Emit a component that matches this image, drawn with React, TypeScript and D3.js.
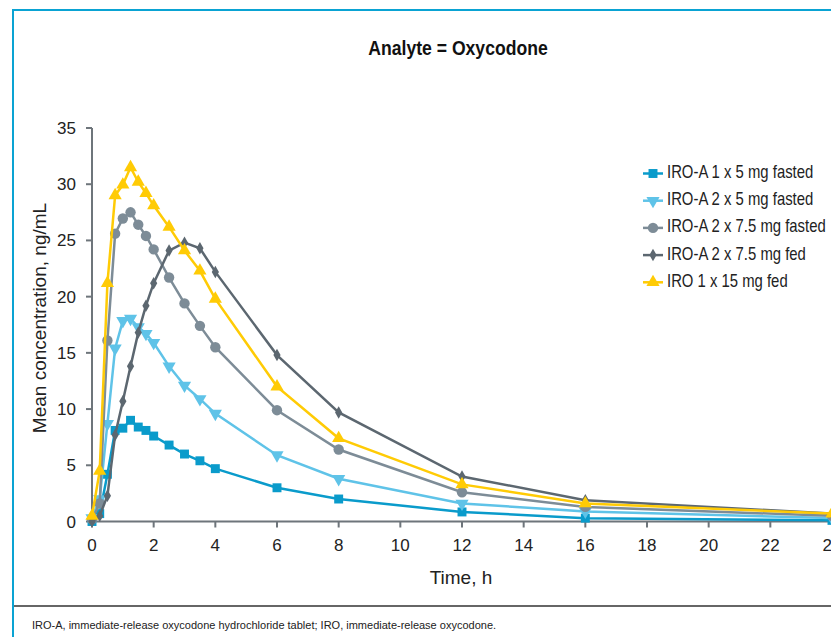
import React from 'react';
import * as d3 from 'd3';

// sampling times (h)
const times = [0, 0.25, 0.5, 0.75, 1, 1.25, 1.5, 1.75, 2, 2.5, 3, 3.5, 4, 6, 8, 12, 16, 24];

const iroA1x5Fasted = [0, 0.7, 4.2, 8.1, 8.3, 9.0, 8.4, 8.1, 7.6, 6.8, 6.0, 5.4, 4.7, 3.0, 2.0, 0.85, 0.3, 0.1];
const iroA2x5Fasted = [0.3, 2.0, 8.7, 15.4, 17.85, 18.05, 17.3, 16.7, 15.9, 13.8, 12.1, 10.9, 9.6, 5.9, 3.8, 1.6, 0.9, 0.3];
const iroA2x75Fasted = [0.2, 1.6, 16.1, 25.6, 26.95, 27.5, 26.4, 25.4, 24.2, 21.7, 19.4, 17.4, 15.5, 9.9, 6.4, 2.6, 1.3, 0.5];
const iroA2x75Fed = [0, 0.5, 2.3, 7.7, 10.7, 13.8, 16.8, 19.2, 21.2, 24.1, 24.8, 24.3, 22.2, 14.8, 9.7, 4.0, 1.9, 0.7];
const iro1x15Fed = [0.5, 4.5, 21.2, 29.0, 29.95, 31.5, 30.2, 29.2, 28.1, 26.2, 24.1, 22.3, 19.8, 12.0, 7.4, 3.3, 1.6, 0.7];

const seriesNames = [
  'IRO-A 1 x 5 mg fasted',
  'IRO-A 2 x 5 mg fasted',
  'IRO-A 2 x 7.5 mg fasted',
  'IRO-A 2 x 7.5 mg fed',
  'IRO 1 x 15 mg fed',
];

const xTicks = [0, 2, 4, 6, 8, 10, 12, 14, 16, 18, 20, 22, 24];
const yTicks = [0, 5, 10, 15, 20, 25, 30, 35];

const series = [
  { name: seriesNames[0], values: iroA1x5Fasted, color: '#0A9BCB', marker: 'square' },
  { name: seriesNames[1], values: iroA2x5Fasted, color: '#5FC3E8', marker: 'triangleDown' },
  { name: seriesNames[2], values: iroA2x75Fasted, color: '#7D8C97', marker: 'circle' },
  { name: seriesNames[3], values: iroA2x75Fed, color: '#5C6770', marker: 'diamond' },
  { name: seriesNames[4], values: iro1x15Fed, color: '#FFCB05', marker: 'triangle' },
];

const W = 831;
const H = 637;
const font = '"Liberation Sans", Arial, sans-serif';
const axisColor = '#6E757B';

const symbolFor = (m: string) => {
  switch (m) {
    case 'square': return d3.symbol(d3.symbolSquare, 80)();
    case 'circle': return d3.symbol(d3.symbolCircle, 85)();
    case 'diamond': return d3.symbol(d3.symbolDiamond, 45)();
    case 'triangle': return d3.symbol(d3.symbolTriangle, 75)();
    case 'triangleDown': return d3.symbol(d3.symbolTriangle, 75)();
    default: return '';
  }
};

const Marker = ({ type, color, x, y }: { type: string; color: string; x: number; y: number }) => (
  <path
    d={symbolFor(type) || ''}
    fill={color}
    transform={`translate(${x},${y})${type === 'triangleDown' ? ' rotate(180)' : ''}`}
  />
);

// condensed text: no narrow face installed, so squeeze horizontally
const CText = ({ x, y, sx, anchor, children, ...rest }: any) => (
  <g transform={`translate(${x},${y}) scale(${sx},1)`}>
    <text x={0} y={0} textAnchor={anchor || 'start'} fontFamily={font} fill="#222" {...rest}>
      {children}
    </text>
  </g>
);

const App = () => {
  const x = d3.scaleLinear().domain([0, 24]).range([92, 832]);
  const y = d3.scaleLinear().domain([0, 35]).range([521.5, 128]);

  const line = d3.line<number>()
    .x((_, i) => x(times[i]))
    .y((d) => y(d));

  return (
    <svg width={W} height={H} style={{ position: 'absolute', left: 0, top: 0 }}>
      <rect width={W} height={H} fill="#fff" />

      {/* frame */}
      <line x1={13} y1={10} x2={W} y2={10} stroke="#0AA3D3" strokeWidth={2} />
      <line x1={13} y1={9} x2={13} y2={H} stroke="#0AA3D3" strokeWidth={2} />
      <line x1={14} y1={606} x2={W} y2={606} stroke="#333" strokeWidth={1.5} />

      <CText x={458} y={55} sx={0.88} anchor="middle" fontWeight="bold" fontSize={20} fill="#111">
        Analyte = Oxycodone
      </CText>

      {/* y axis */}
      <line x1={92} y1={y(35)} x2={92} y2={y(0)} stroke={axisColor} strokeWidth={2} />
      {yTicks.map((t) => (
        <g key={t}>
          <line x1={86} x2={92} y1={y(t)} y2={y(t)} stroke={axisColor} strokeWidth={2} />
          <text x={76} y={y(t) + 6} textAnchor="end" fontFamily={font} fontSize={17} fill="#222">{t}</text>
        </g>
      ))}
      {/* x axis */}
      <line x1={91} y1={y(0)} x2={W} y2={y(0)} stroke={axisColor} strokeWidth={2} />
      {xTicks.map((t) => (
        <g key={t}>
          <line x1={x(t)} x2={x(t)} y1={y(0)} y2={y(0) + 6} stroke={axisColor} strokeWidth={2} />
          <text x={x(t)} y={551} textAnchor="middle" fontFamily={font} fontSize={17} fill="#222">{t}</text>
        </g>
      ))}

      <text x={461} y={584} textAnchor="middle" fontFamily={font} fontSize={19} fill="#222">Time, h</text>
      <text transform="translate(46,318) rotate(-90)" textAnchor="middle" fontFamily={font} fontSize={19} fill="#222">
        Mean concentration, ng/mL
      </text>

      {/* series */}
      {series.map((s) => (
        <g key={s.name}>
          <path d={line(s.values) || ''} fill="none" stroke={s.color} strokeWidth={2.5} />
          {s.values.map((v, i) => (
            <Marker key={i} type={s.marker} color={s.color} x={x(times[i])} y={y(v)} />
          ))}
        </g>
      ))}

      {/* legend */}
      {series.map((s, i) => {
        const ly = 173.5 + i * 27.2;
        return (
          <g key={s.name}>
            <line x1={643} x2={663} y1={ly} y2={ly} stroke={s.color} strokeWidth={2.5} />
            <Marker type={s.marker} color={s.color} x={653} y={ly} />
            <CText x={667} y={ly + 4.5} sx={0.85} fontSize={17.5}>{s.name}</CText>
          </g>
        );
      })}

      <text x={32} y={629} fontFamily={font} fontSize={11} fill="#222">
        IRO-A, immediate-release oxycodone hydrochloride tablet; IRO, immediate-release oxycodone.
      </text>
    </svg>
  );
};

export default App;
